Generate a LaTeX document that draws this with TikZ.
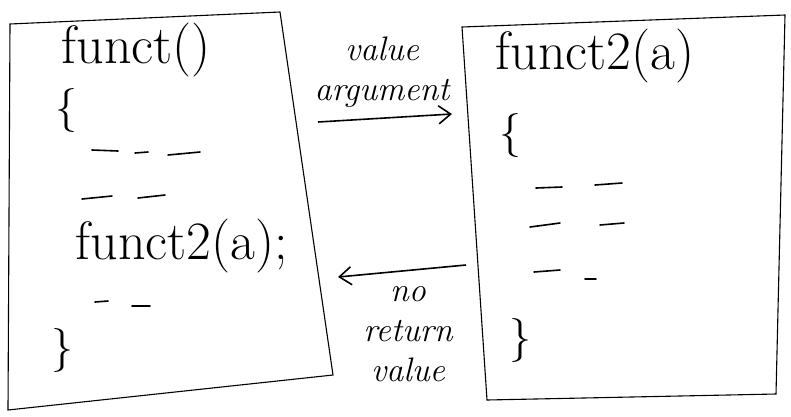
\documentclass[tikz,border=0pt]{standalone}
\usetikzlibrary{arrows.meta}
\begin{document}
\begin{tikzpicture}[x=1pt,y=-1pt,
  box/.style={line width=1.1pt},
  head/.style={font=\fontsize{54}{58}\selectfont, anchor=west},
  code/.style={font=\fontsize{44}{48}\selectfont, anchor=west},
  stroke/.style={line width=1.6pt, line cap=round},
  note/.style={font=\itshape\fontsize{34}{40}\selectfont, align=center},
  flow/.style={-{Straight Barb[length=12pt,width=18pt]}, line width=1.6pt}]
\useasboundingbox (0,0) rectangle (791,416);
% calling function
\coordinate (m1) at (10,24);
\coordinate (m2) at (280,12);
\coordinate (m3) at (333,375);
\coordinate (m4) at (8,410);
\draw[box] (m1) -- (m2) -- (m3) -- (m4) -- cycle;
\node[head] (mhead) at (58,50) {funct()};
\node[code] (mopen) at (52,110) {\{};
\draw[stroke] (92,150) -- (118,151) (135,153) -- (148,152) (168,155) -- (200,152);
\draw[stroke] (82,199) -- (112,196) (138,198) -- (165,195);
\node[head] (mcall) at (72,246) {funct2(a);};
\draw[stroke] (95,302) -- (108,301) (132,306) -- (150,306);
\node[code] (mclose) at (48,350) {\}};
% called function
\coordinate (f1) at (462,27);
\coordinate (f2) at (785,15);
\coordinate (f3) at (776,394);
\coordinate (f4) at (487,400);
\draw[box] (f1) -- (f2) -- (f3) -- (f4) -- cycle;
\node[head] (fhead) at (492,56) {funct2(a)};
\node[code] (fopen) at (496,135) {\{};
\draw[stroke] (536,188) -- (562,187) (595,185) -- (622,183);
\draw[stroke] (530,227) -- (560,223) (600,225) -- (624,223);
\draw[stroke] (534,272) -- (560,270) (585,279) -- (596,279);
\node[code] (fclose) at (506,340) {\}};
% passing
\node[note] (argtxt) at (382,72) {value\\argument};
\coordinate (argtail) at (318,122);
\coordinate (arghead) at (452,114);
\draw[flow] (argtail) -- (arghead);
\coordinate (rettail) at (466,265);
\coordinate (rethead) at (338,277);
\draw[flow] (rettail) -- (rethead);
\node[note] (rettxt) at (408,334) {no\\return\\value};
\end{tikzpicture}
\end{document}
